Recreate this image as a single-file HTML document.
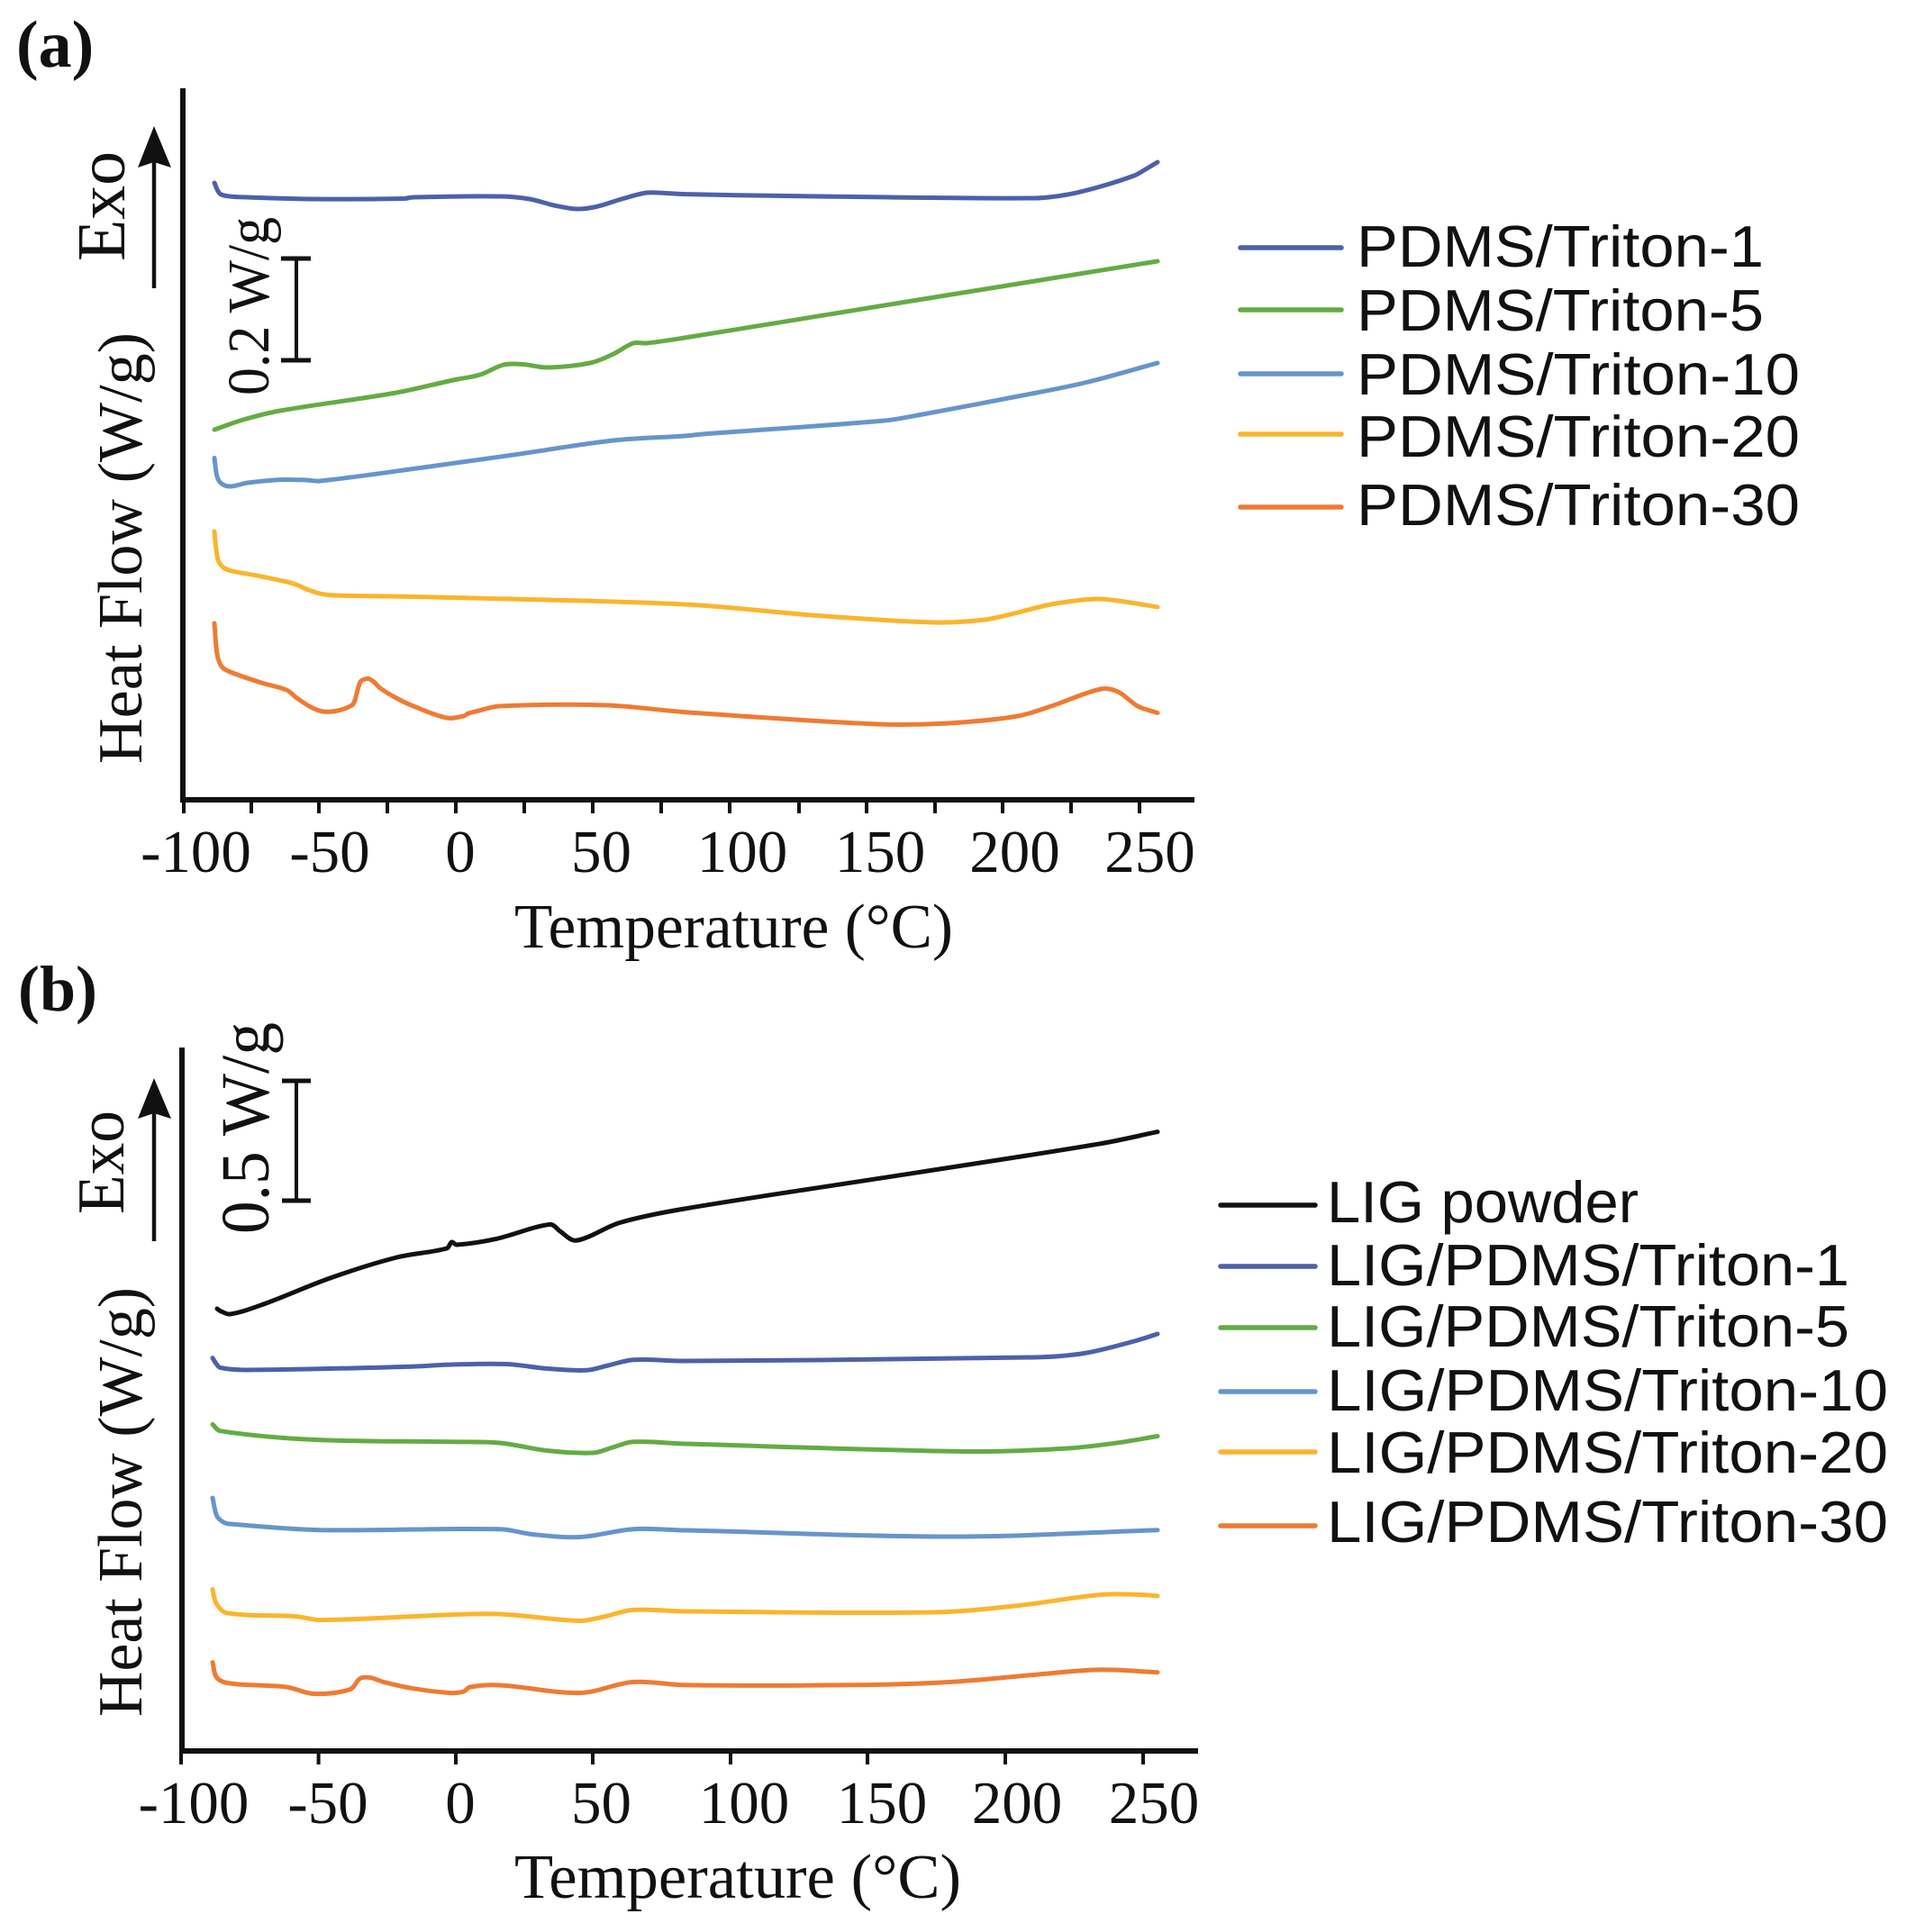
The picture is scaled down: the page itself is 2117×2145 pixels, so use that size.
<!DOCTYPE html>
<html>
<head>
<meta charset="utf-8">
<style>
  html, body { margin: 0; padding: 0; background: #ffffff; }
  svg { display: block; }
  .serif { font-family: "Liberation Serif", "Times New Roman", serif; fill: #111; }
  .sans { font-family: "Liberation Sans", Arial, sans-serif; fill: #111; }
  .curve { fill: none; stroke-width: 5; stroke-linejoin: round; stroke-linecap: round; }
</style>
</head>
<body>
<svg id="fig" width="2117" height="2145" viewBox="0 0 2117 2145" xmlns="http://www.w3.org/2000/svg">
  <rect x="0" y="0" width="2117" height="2145" fill="#ffffff"/>

  <!-- ================= PANEL (a) ================= -->
  <text class="serif" x="18" y="74" font-size="74" font-weight="bold">(a)</text>

  <line x1="203" y1="98" x2="203" y2="891" stroke="#111" stroke-width="6"/>
  <line x1="200" y1="888" x2="1326" y2="888" stroke="#111" stroke-width="6"/>
  <g stroke="#111" stroke-width="4">
    <line x1="204" y1="888" x2="204" y2="903"/>
    <line x1="279" y1="888" x2="279" y2="903"/>
    <line x1="354" y1="888" x2="354" y2="903"/>
    <line x1="430" y1="888" x2="430" y2="903"/>
    <line x1="506" y1="888" x2="506" y2="903"/>
    <line x1="582" y1="888" x2="582" y2="903"/>
    <line x1="658" y1="888" x2="658" y2="903"/>
    <line x1="734" y1="888" x2="734" y2="903"/>
    <line x1="810" y1="888" x2="810" y2="903"/>
    <line x1="887" y1="888" x2="887" y2="903"/>
    <line x1="962" y1="888" x2="962" y2="903"/>
    <line x1="1038" y1="888" x2="1038" y2="903"/>
    <line x1="1113" y1="888" x2="1113" y2="903"/>
    <line x1="1189" y1="888" x2="1189" y2="903"/>
    <line x1="1265" y1="888" x2="1265" y2="903"/>
  </g>
  <g class="serif" font-size="67" text-anchor="middle">
    <text x="217.5" y="968">-100</text>
    <text x="366" y="968">-50</text>
    <text x="511" y="968">0</text>
    <text x="667.5" y="968">50</text>
    <text x="824" y="968">100</text>
    <text x="977" y="968">150</text>
    <text x="1126.5" y="968">200</text>
    <text x="1276.5" y="968">250</text>
  </g>
  <text class="serif" x="571" y="1052" font-size="70" textLength="487" lengthAdjust="spacingAndGlyphs">Temperature (°C)</text>

  <text class="serif" font-size="70" transform="translate(157,848) rotate(-90)" textLength="479" lengthAdjust="spacingAndGlyphs">Heat Flow (W/g)</text>
  <text class="serif" font-size="76" transform="translate(138,290) rotate(-90)" textLength="122" lengthAdjust="spacingAndGlyphs">Exo</text>
  <line x1="171" y1="180" x2="171" y2="320" stroke="#111" stroke-width="4.5"/>
  <polygon points="171,140 153,186 171,180 190,186" fill="#111"/>
  <text class="serif" font-size="66" transform="translate(298,439) rotate(-90)" textLength="198" lengthAdjust="spacingAndGlyphs">0.2 W/g</text>
  <g stroke="#111">
    <line x1="329" y1="287" x2="329" y2="400" stroke-width="4"/>
    <line x1="312" y1="287" x2="345" y2="287" stroke-width="5"/>
    <line x1="312" y1="400" x2="345" y2="400" stroke-width="5"/>
  </g>

  <polyline class="curve" stroke="#4d60aa" points="238,203 244,215 255,218 274,219 348,221 448,220.5 459,219 555,218 588,221 615,228 640,232 662,229.5 690,221 718,214 740,214.5 760,215.6 908,218 1148,220 1185,216 1222,207 1259,195 1270,189 1285,180"/>
  <polyline class="curve" stroke="#65ab43" points="238,477 270,466 311,456 440,436 503,422 533,416 559,405 581,404.5 607,408 655,403 681,393 703,381 718,381 760,375 1019,333 1285,290"/>
  <polyline class="curve" stroke="#6894cb" points="238,508.5 241,529 246,537 255.5,540 275,536 311,532.6 340,533 355,534 459,520.5 570,505 681,489 760,484 780,482 982,467 1019,461 1130,440 1204,425 1285,403"/>
  <polyline class="curve" stroke="#fbb42d" points="238,590 240,610 242.5,623 248,630 255.5,633.5 290,640 326,648 340,654 355,659 370,661 459,662.5 760,671 908,683.5 1037,691 1093,688 1130,680 1167,671 1215,665 1241,667 1285,674"/>
  <polyline class="curve" stroke="#ee7b33" points="238,692 241,726 246,740 255.5,746 290,758 318,766 329.5,775 345,785 359,790 375,789 389,784 393,780 400,757 405,754 409,753.5 415,757 422,764 440,775 459,784 496,797 514.5,795 520,792 525.5,790.6 555,784 673.5,783 760,790.6 974.6,804 1056,802.7 1130,795 1167,784 1222,765 1241,768 1263,784 1285,791.5"/>

  <g stroke-width="5.5" stroke-linecap="round">
    <line x1="1377" y1="275" x2="1489" y2="275" stroke="#4d60aa"/>
    <line x1="1377" y1="344" x2="1489" y2="344" stroke="#65ab43"/>
    <line x1="1377" y1="415" x2="1489" y2="415" stroke="#6894cb"/>
    <line x1="1377" y1="482" x2="1489" y2="482" stroke="#fbb42d"/>
    <line x1="1377" y1="563" x2="1489" y2="563" stroke="#ee7b33"/>
  </g>
  <g class="sans" font-size="65">
    <text x="1506" y="296" textLength="452" lengthAdjust="spacingAndGlyphs">PDMS/Triton-1</text>
    <text x="1506" y="367" textLength="452" lengthAdjust="spacingAndGlyphs">PDMS/Triton-5</text>
    <text x="1506" y="438" textLength="492" lengthAdjust="spacingAndGlyphs">PDMS/Triton-10</text>
    <text x="1506" y="507" textLength="492" lengthAdjust="spacingAndGlyphs">PDMS/Triton-20</text>
    <text x="1506" y="583" textLength="492" lengthAdjust="spacingAndGlyphs">PDMS/Triton-30</text>
  </g>

  <!-- ================= PANEL (b) ================= -->
  <text class="serif" x="20" y="1122" font-size="72" font-weight="bold">(b)</text>

  <line x1="202" y1="1163" x2="202" y2="1947" stroke="#111" stroke-width="6"/>
  <line x1="199" y1="1944" x2="1330" y2="1944" stroke="#111" stroke-width="6"/>
  <g stroke="#111" stroke-width="4">
    <line x1="201" y1="1944" x2="201" y2="1959"/>
    <line x1="353.6" y1="1944" x2="353.6" y2="1959"/>
    <line x1="506" y1="1944" x2="506" y2="1959"/>
    <line x1="658" y1="1944" x2="658" y2="1959"/>
    <line x1="811" y1="1944" x2="811" y2="1959"/>
    <line x1="963" y1="1944" x2="963" y2="1959"/>
    <line x1="1116" y1="1944" x2="1116" y2="1959"/>
    <line x1="1269" y1="1944" x2="1269" y2="1959"/>
  </g>
  <g class="serif" font-size="67" text-anchor="middle">
    <text x="215" y="2024">-100</text>
    <text x="364" y="2024">-50</text>
    <text x="511" y="2024">0</text>
    <text x="667.5" y="2024">50</text>
    <text x="826" y="2024">100</text>
    <text x="979" y="2024">150</text>
    <text x="1129" y="2024">200</text>
    <text x="1281" y="2024">250</text>
  </g>
  <text class="serif" x="571" y="2107" font-size="70" textLength="496" lengthAdjust="spacingAndGlyphs">Temperature (°C)</text>

  <text class="serif" font-size="70" transform="translate(157,1906) rotate(-90)" textLength="477" lengthAdjust="spacingAndGlyphs">Heat Flow (W/g)</text>
  <text class="serif" font-size="74" transform="translate(137,1348) rotate(-90)" textLength="115" lengthAdjust="spacingAndGlyphs">Exo</text>
  <line x1="171" y1="1236" x2="171" y2="1378" stroke="#111" stroke-width="4.5"/>
  <polygon points="171,1197 153,1242 171,1236 190,1242" fill="#111"/>
  <text class="serif" font-size="76" transform="translate(298,1370) rotate(-90)" textLength="235" lengthAdjust="spacingAndGlyphs">0.5 W/g</text>
  <g stroke="#111">
    <line x1="329" y1="1200" x2="329" y2="1333" stroke-width="4"/>
    <line x1="313" y1="1200" x2="345" y2="1200" stroke-width="5"/>
    <line x1="313" y1="1333" x2="345" y2="1333" stroke-width="5"/>
  </g>

  <polyline class="curve" stroke="#111111" points="241,1453 244.4,1455.4 255.5,1459 292.5,1448 366.5,1419 440.5,1396 496,1386 501.5,1379 507,1382 551,1375.4 610.6,1359.4 621.8,1367 636.5,1377 651,1374 688,1357.5 760,1342 1019,1301.7 1222,1269.7 1285,1256.6"/>
  <polyline class="curve" stroke="#4d60aa" points="236,1507.7 240,1514 244.4,1518.4 274,1521 451.6,1517.4 501.5,1515 562.6,1514.5 607,1519.4 651,1521.3 675,1516 703,1509.7 760,1511 1148,1507 1204,1502.4 1259.5,1489 1285,1481"/>
  <polyline class="curve" stroke="#65ab43" points="236,1581.4 244.4,1588.7 348,1598.4 501.5,1600.8 555,1602 607,1610.5 658.7,1613 680,1607 703,1600.8 760,1603 1074.5,1611.5 1185.5,1608 1241,1601.8 1285,1594.5"/>
  <polyline class="curve" stroke="#6894cb" points="236,1663 240.7,1683 248,1690 255.5,1692 355,1698.7 555,1697.7 592,1703.6 644,1706.5 703,1697.7 760,1699 1063,1706 1285,1698.7"/>
  <polyline class="curve" stroke="#fbb42d" points="236,1764.6 240,1780 251.8,1790.8 329.5,1794.7 355,1798.6 501.5,1792.7 555,1792 644,1799.5 670,1795 703,1787.4 760,1789 1037.5,1790 1130,1782.6 1222,1770.5 1267,1770.5 1285,1772"/>
  <polyline class="curve" stroke="#ee7b33" points="236,1845.6 240.7,1862.6 255.5,1869 318,1873 348,1880.5 388.7,1875.6 399.8,1863.5 411,1862.6 425.7,1867.4 459,1874.7 499.7,1879.5 514.5,1878 522,1873 555,1871 644,1879.5 703,1867.4 760,1870.8 945,1870.8 1056,1867.4 1167,1857.7 1222,1853.8 1285,1856.7"/>

  <g stroke-width="5.5" stroke-linecap="round">
    <line x1="1355" y1="1338" x2="1460" y2="1338" stroke="#111111"/>
    <line x1="1355" y1="1406" x2="1460" y2="1406" stroke="#4d60aa"/>
    <line x1="1355" y1="1474" x2="1460" y2="1474" stroke="#65ab43"/>
    <line x1="1355" y1="1545" x2="1460" y2="1545" stroke="#6894cb"/>
    <line x1="1355" y1="1612" x2="1460" y2="1612" stroke="#fbb42d"/>
    <line x1="1355" y1="1694" x2="1460" y2="1694" stroke="#ee7b33"/>
  </g>
  <g class="sans" font-size="65">
    <text x="1473" y="1357" textLength="346" lengthAdjust="spacingAndGlyphs">LIG powder</text>
    <text x="1473" y="1427" textLength="580" lengthAdjust="spacingAndGlyphs">LIG/PDMS/Triton-1</text>
    <text x="1473" y="1495" textLength="580" lengthAdjust="spacingAndGlyphs">LIG/PDMS/Triton-5</text>
    <text x="1473" y="1566" textLength="623" lengthAdjust="spacingAndGlyphs">LIG/PDMS/Triton-10</text>
    <text x="1473" y="1635" textLength="623" lengthAdjust="spacingAndGlyphs">LIG/PDMS/Triton-20</text>
    <text x="1473" y="1712" textLength="623" lengthAdjust="spacingAndGlyphs">LIG/PDMS/Triton-30</text>
  </g>
</svg>
<script>
(function(){
  try {
    var NS = "http://www.w3.org/2000/svg";
    var pls = document.querySelectorAll("polyline.curve");
    for (var k = 0; k < pls.length; k++) {
      var pl = pls[k];
      var nums = pl.getAttribute("points").trim().split(/[\s,]+/).map(Number);
      var p = [];
      for (var i = 0; i + 1 < nums.length; i += 2) p.push([nums[i], nums[i+1]]);
      if (p.length < 3) continue;
      var dist = function(a, b){ return Math.hypot(b[0]-a[0], b[1]-a[1]) || 1e-6; };
      var tan = function(i){
        var a = p[Math.max(i-1,0)], b = p[i], c = p[Math.min(i+1,p.length-1)];
        var dd = dist(a,b) + dist(b,c);
        if (i === 0 || i === p.length-1) dd = dist(a,c);
        return [(c[0]-a[0])/dd, (c[1]-a[1])/dd];
      };
      var d = "M" + p[0][0] + "," + p[0][1];
      for (var j = 0; j < p.length-1; j++) {
        var p1 = p[j], p2 = p[j+1], L = dist(p1,p2);
        var t1 = tan(j), t2 = tan(j+1);
        var c1 = [p1[0] + t1[0]*L/3, p1[1] + t1[1]*L/3];
        var c2 = [p2[0] - t2[0]*L/3, p2[1] - t2[1]*L/3];
        d += " C" + c1[0].toFixed(2) + "," + c1[1].toFixed(2) + " " +
             c2[0].toFixed(2) + "," + c2[1].toFixed(2) + " " + p2[0] + "," + p2[1];
      }
      var path = document.createElementNS(NS, "path");
      path.setAttribute("d", d);
      path.setAttribute("class", "curve");
      path.setAttribute("stroke", pl.getAttribute("stroke"));
      pl.parentNode.replaceChild(path, pl);
    }
  } catch (e) {}
})();
</script>
</body>
</html>
